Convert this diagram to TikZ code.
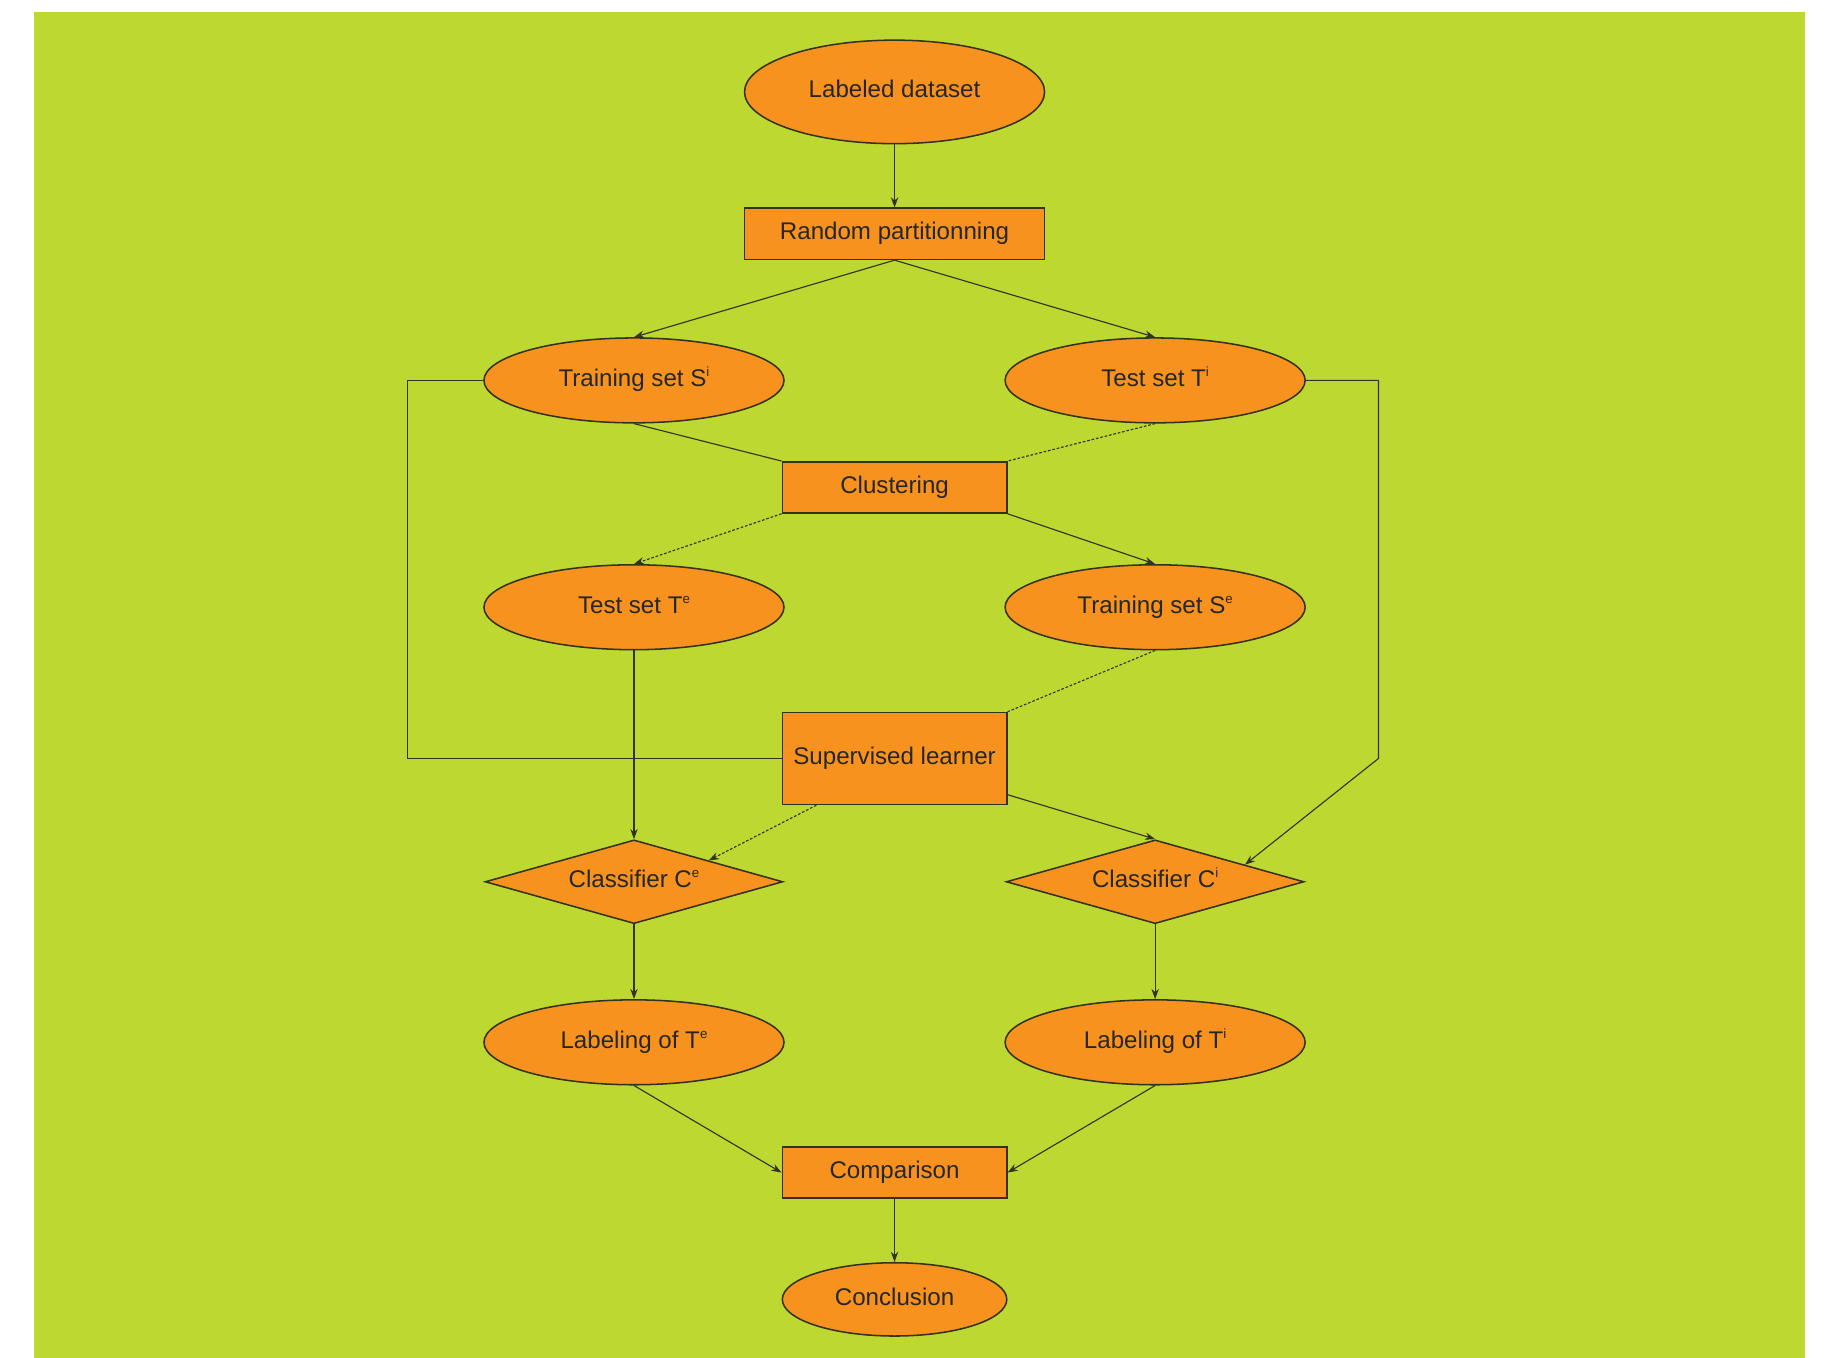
\documentclass[tikz,border=0pt]{standalone}
\usepackage{fontspec}
\setmainfont{Liberation Sans}
\usepackage{tikz}
\usetikzlibrary{shapes,calc,positioning,arrows.meta,shapes.geometric}
\definecolor{bggreen}{RGB}{190,216,50}
\definecolor{setorange}{RGB}{247,146,30}
\definecolor{linegray}{RGB}{50,50,30}
\newcommand{\upidx}[1]{\raisebox{4.8pt}{\fontsize{6.5}{7}\selectfont #1}}

\begin{document}
\begin{tikzpicture}[
                x=0.02cm, y=-0.02cm,
                every node/.style={font=\fontsize{11.8}{14}\selectfont, text=black!85, text height=0.38cm, text depth=0.18cm},
                data_set/.style={ellipse, draw=linegray, line width=0.75pt, fill=setorange, inner sep=0pt, minimum width=5.16cm, minimum height=1.46cm},
                proc_box/.style={rectangle, draw=linegray, line width=0.75pt, fill=setorange, inner sep=0pt, minimum width=3.86cm, minimum height=0.88cm},
                clf/.style={diamond, aspect=3.5, draw=linegray, line width=0.75pt, fill=setorange, inner sep=0pt, minimum width=5.12cm, minimum height=1.44cm},
                link/.style={draw=linegray, line width=0.55pt},
                arr/.style={link, -{Stealth[length=5pt, width=3.6pt]}},
                dots/.style={link, dash pattern=on 1.3pt off 0.9pt}
            ]
                \fill[white] (0,0) rectangle (1568,1167);
                \fill[bggreen] (29,10) rectangle (1552,1167);

                \node[data_set, minimum height=1.78cm] (lab) at (769,79) {Labeled dataset};
                \node[proc_box, minimum width=5.16cm] (rand) at (769,201) {Random partitionning};
                \node[data_set] (Si) at (545,327) {Training set S\upidx{i}};
                \node[data_set] (Ti) at (993,327) {Test set T\upidx{i}};
                \node[proc_box] (clu) at (769,419) {Clustering};
                \node[data_set] (Te) at (545,522) {Test set T\upidx{e}};
                \node[data_set] (Se) at (993,522) {Training set S\upidx{e}};
                \node[proc_box, minimum height=1.58cm] (sup) at (769,652) {Supervised learner};
                \node[clf] (Ce) at (545,758) {Classifier C\upidx{e}};
                \node[clf] (Ci) at (993,758) {Classifier C\upidx{i}};
                \node[data_set] (LTe) at (545,896) {Labeling of T\upidx{e}};
                \node[data_set] (LTi) at (993,896) {Labeling of T\upidx{i}};
                \node[proc_box] (cmp) at (769,1008) {Comparison};
                \node[data_set, minimum width=3.86cm, minimum height=1.26cm] (conc) at (769,1117) {Conclusion};

                \coordinate (bendL) at (350,327);
                \coordinate (bendR) at (1185,652);

                \draw[arr] (lab) -- (rand);
                \draw[arr] (rand.south) -- (Si.north);
                \draw[arr] (rand.south) -- (Ti.north);
                \draw[link] (Si.south) -- (clu.north west);
                \draw[dots] (Ti.south) -- (clu.north east);
                \draw[dots, -{Stealth[length=5pt, width=3.6pt]}] (clu.south west) -- (Te.north);
                \draw[arr] (clu.south east) -- (Se.north);
                \draw[link] (Si.west) -- (bendL) |- (sup.west);
                \draw[arr] (Ti.east) -| (bendR) -- ($(Ci.north)!0.6!(Ci.east)$);
                \draw[arr] (Te.south) -- (Ce.north);
                \draw[dots] (Se.south) -- (sup.north east);
                \draw[dots, -{Stealth[length=5pt, width=3.6pt]}] ([xshift=0.6cm]sup.south west) -- (Ce.north east);
                \draw[arr] ([yshift=0.18cm]sup.south east) -- (Ci.north);
                \draw[arr] (Ce.south) -- (LTe.north);
                \draw[arr] (Ci.south) -- (LTi.north);
                \draw[arr] (LTe.south) -- (cmp.west);
                \draw[arr] (LTi.south) -- (cmp.east);
                \draw[arr] (cmp) -- (conc);
            \end{tikzpicture}
\end{document}
